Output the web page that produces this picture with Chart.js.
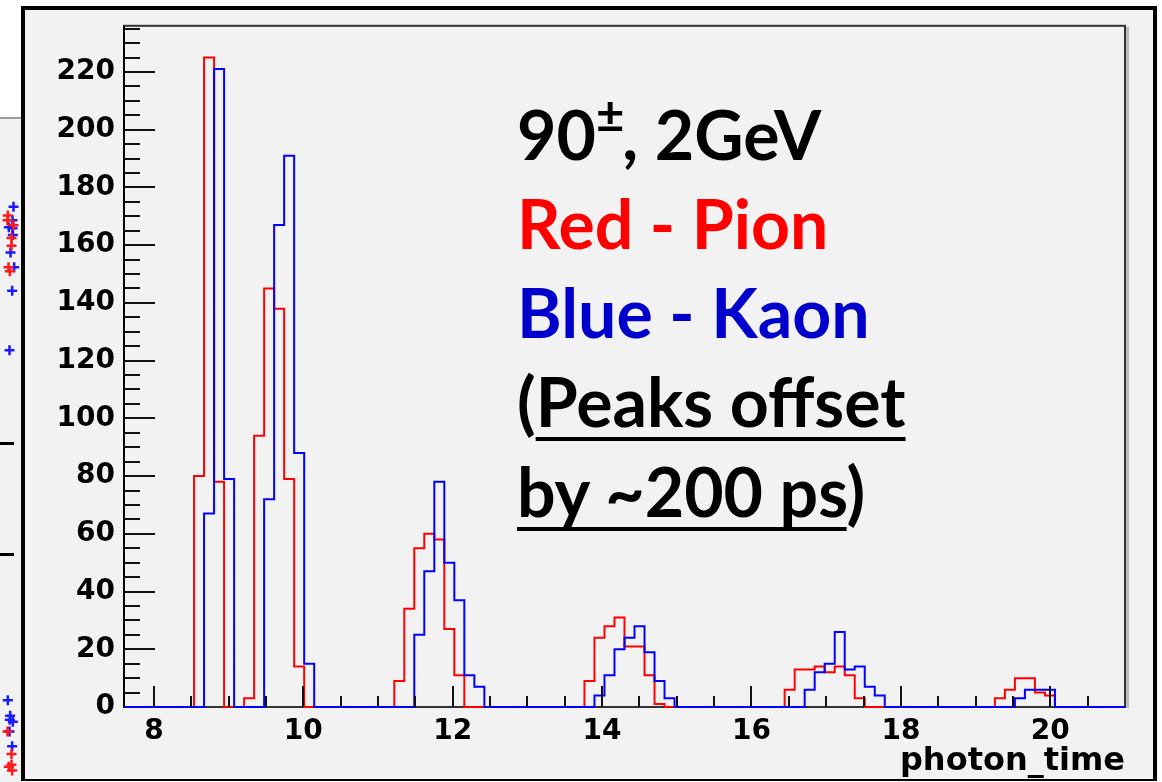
<!DOCTYPE html>
<html>
<head>
<meta charset="utf-8">
<title>photon_time</title>
<script src="https://cdn.jsdelivr.net/npm/chart.js@4.4.3/dist/chart.umd.min.js"></script>
<style>
    html, body { margin: 0; padding: 0; background: #fff; }
    body { position: relative; width: 1162px; height: 782px; overflow: hidden; }
    #side { position: absolute; left: 0; top: 117px; width: 22px; height: 665px; background: #f2f2f2; border-top: 2px solid #9c9c9c; }
    #sideCanvas { position: absolute; left: 0; top: 119px; }
    .sideTick { position: absolute; left: 0; width: 14px; height: 3px; background: #000; }
    #pad { position: absolute; left: 21px; top: 6px; width: 1128px; height: 769px; background: #f2f2f2;
           border: 4px solid #000; border-bottom-width: 2px; }
    #chart { position: absolute; left: 0; top: 0; }
    .note { position: absolute; left: 517px; font-family: "Lato", sans-serif; font-weight: 700; font-size: 68px;
            line-height: 68px; white-space: nowrap; }
    .note u { text-decoration: underline; text-decoration-thickness: 4px; text-underline-offset: 10px;
              text-decoration-skip-ink: none; }
    .note .pm { font-size: 0.72em; position: relative; top: -0.55em; margin-right: -2px; }
</style>
</head>
<body>
<div id="side"></div>
<canvas id="sideCanvas" width="22" height="663"></canvas>
<div class="sideTick" style="top:442px"></div>
<div class="sideTick" style="top:553px"></div>
<div id="pad"></div>
<canvas id="chart" width="1162" height="782"></canvas>

<div class="note" style="top:100px; color:#000">90<span class="pm">±</span>, 2GeV</div>
<div class="note" style="top:189px; color:#ff0000">Red - Pion</div>
<div class="note" style="top:278px; color:#0000cc">Blue - Kaon</div>
<div class="note" style="top:367px; color:#000">(<u>Peaks offset</u></div>
<div class="note" style="top:457px; color:#000"><u>by ~200 ps</u>)</div>

<script>
// Histogram binning: 100 bins from 7.6 to 21.0
const binLow = 7.6;
const binHigh = 21.0;
const binCount = 100;

// Counts per bin, pion (red)
const pionCounts = [
    0, 0, 0, 0, 0, 0, 0, 80, 225, 78,
    0, 0, 3, 94, 145, 138, 79, 14, 0, 0,
    0, 0, 0, 0, 0, 0, 0, 9, 34, 55,
    60, 58, 27, 11, 0, 0, 0, 0, 0, 0,
    0, 0, 0, 0, 0, 0, 9, 24, 28, 31,
    21, 21, 11, 1, 0, 0, 0, 0, 0, 0,
    0, 0, 0, 0, 0, 0, 6, 13, 13, 14,
    12, 14, 11, 3, 0, 0, 0, 0, 0, 0,
    0, 0, 0, 0, 0, 0, 0, 3, 6, 10,
    10, 5, 4, 0, 0, 0, 0, 0, 0, 0
];

// Counts per bin, kaon (blue)
const kaonCounts = [
    0, 0, 0, 0, 0, 0, 0, 0, 67, 221,
    79, 0, 0, 0, 72, 167, 191, 88, 15, 0,
    0, 0, 0, 0, 0, 0, 0, 0, 0, 25,
    47, 78, 50, 37, 11, 7, 0, 0, 0, 0,
    0, 0, 0, 0, 0, 0, 0, 4, 11, 20,
    24, 28, 19, 9, 3, 0, 0, 0, 0, 0,
    0, 0, 0, 0, 0, 0, 0, 0, 6, 12,
    15, 26, 13, 14, 7, 4, 0, 0, 0, 0,
    0, 0, 0, 0, 0, 0, 0, 0, 0, 3,
    6, 6, 6, 0, 0, 0, 0, 0, 0, 0
];

// Axis ranges and tick steps
const yMax = 236;
const xMajorStep = 2;
const xMinorStep = 0.5;
const yMajorStep = 20;
const yMinorStep = 5;
const xTitle = "photon_time";

// Neighbouring plot peeking in on the left edge
const sidePionX = [1, 0, 12, 12, 3, 7, 18, 0, 12, 4, 12, 14];
const sidePionY = [91, 96, 114, 122, 144, 148, 101, 619, 642, 655, 653, 659];
const sideKaonX = [18, 4, 15, 15, 16, 9, 20, 14, 6, 1, 8, 7, 16, 6, 14];
const sideKaonY = [82, 103, 96, 104, 111, 129, 144, 168, 229, 587, 603, 607, 609, 619, 634];

const binWidth = (binHigh - binLow) / binCount;

// step outline: each point holds its count until the next bin edge
function toSteps(counts) {
    const pts = counts.map((c, i) => ({ x: binLow + i * binWidth, y: c }));
    pts.push({ x: binHigh, y: 0 });
    return pts;
}

const tickFont = { family: "DejaVu Sans", size: 28, weight: "bold" };

// ROOT-style frame and inward tick marks
const rootFrame = {
    id: "rootFrame",
    beforeDatasetsDraw(chart) {
        const { ctx, chartArea: a } = chart;
        ctx.save();
        ctx.fillStyle = "#bcbcbc";
        ctx.fillRect(a.right + 1, a.top + 1, 3, a.bottom - a.top);
        ctx.strokeStyle = "#333";
        ctx.lineWidth = 2;
        ctx.strokeRect(a.left, a.top, a.right - a.left, a.bottom - a.top);
        ctx.restore();
    },
    afterDatasetsDraw(chart) {
        const { ctx, chartArea: a, scales: { x, y } } = chart;
        ctx.save();
        ctx.strokeStyle = "#111";
        ctx.lineWidth = 2;
        ctx.beginPath();
        x.ticks.forEach(t => {
            if (t.value >= x.max) return;
            const px = Math.round(x.getPixelForValue(t.value));
            const len = t.value % xMajorStep === 0 ? 21 : 11;
            ctx.moveTo(px, a.bottom);
            ctx.lineTo(px, a.bottom - len);
        });
        y.ticks.forEach(t => {
            if (t.value <= 0) return;
            const py = Math.round(y.getPixelForValue(t.value));
            const len = t.value % yMajorStep === 0 ? 31 : 16;
            ctx.moveTo(a.left, py);
            ctx.lineTo(a.left + len, py);
        });
        ctx.stroke();
        ctx.strokeStyle = "#000";
        ctx.beginPath();
        ctx.moveTo(a.left, a.top);
        ctx.lineTo(a.left, a.bottom);
        ctx.stroke();
        ctx.restore();
    }
};

new Chart(document.getElementById("chart"), {
    type: "line",
    data: {
        datasets: [
            {
                label: "Kaon",
                data: toSteps(kaonCounts),
                borderColor: "#0000ff",
                order: 0
            },
            {
                label: "Pion",
                data: toSteps(pionCounts),
                borderColor: "#ff0000",
                order: 1
            }
        ]
    },
    options: {
        responsive: false,
        animation: false,
        parsing: false,
        layout: { padding: { left: 24, top: 24, right: 37, bottom: 0 } },
        elements: {
            line: { stepped: "before", borderWidth: 2, tension: 0, fill: false },
            point: { radius: 0 }
        },
        datasets: { line: { clip: 4 } },
        plugins: { legend: { display: false }, tooltip: { enabled: false } },
        scales: {
            x: {
                type: "linear",
                min: binLow,
                max: binHigh,
                grid: { display: false, drawTicks: false },
                border: { display: false },
                afterFit: s => { s.height = 75; },
                ticks: {
                    stepSize: xMinorStep,
                    includeBounds: false,
                    autoSkip: false,
                    maxRotation: 0,
                    padding: 8,
                    color: "#000",
                    font: tickFont,
                    callback: v => (v % xMajorStep === 0 ? String(v) : "")
                },
                title: {
                    display: true,
                    text: xTitle,
                    align: "end",
                    color: "#000",
                    font: { family: "DejaVu Sans", size: 32, weight: "bold" },
                    padding: { top: 0, bottom: 1 }
                }
            },
            y: {
                min: 0,
                max: yMax,
                grid: { display: false, drawTicks: false },
                border: { display: false },
                afterFit: s => { s.width = 100; },
                ticks: {
                    stepSize: yMinorStep,
                    includeBounds: false,
                    autoSkip: false,
                    padding: 9,
                    color: "#000",
                    font: tickFont,
                    callback: v => (v % yMajorStep === 0 ? String(v) : "")
                }
            }
        }
    },
    plugins: [rootFrame]
});

// sliver of the neighbouring scatter plot
const sideMarker = { pointStyle: "cross", pointRadius: 5, pointBorderWidth: 2.5, clip: false };
new Chart(document.getElementById("sideCanvas"), {
    type: "scatter",
    data: {
        datasets: [
            {
                ...sideMarker,
                data: sidePionX.map((x, i) => ({ x, y: sidePionY[i] })),
                borderColor: "#ff1a1a"
            },
            {
                ...sideMarker,
                data: sideKaonX.map((x, i) => ({ x, y: sideKaonY[i] })),
                borderColor: "#1a1aff"
            }
        ]
    },
    options: {
        responsive: false,
        animation: false,
        layout: { padding: 0 },
        plugins: { legend: { display: false }, tooltip: { enabled: false } },
        scales: {
            x: { display: false, min: 0, max: 21 },
            y: { display: false, min: 0, max: 663, reverse: true }
        }
    }
});
</script>
</body>
</html>
